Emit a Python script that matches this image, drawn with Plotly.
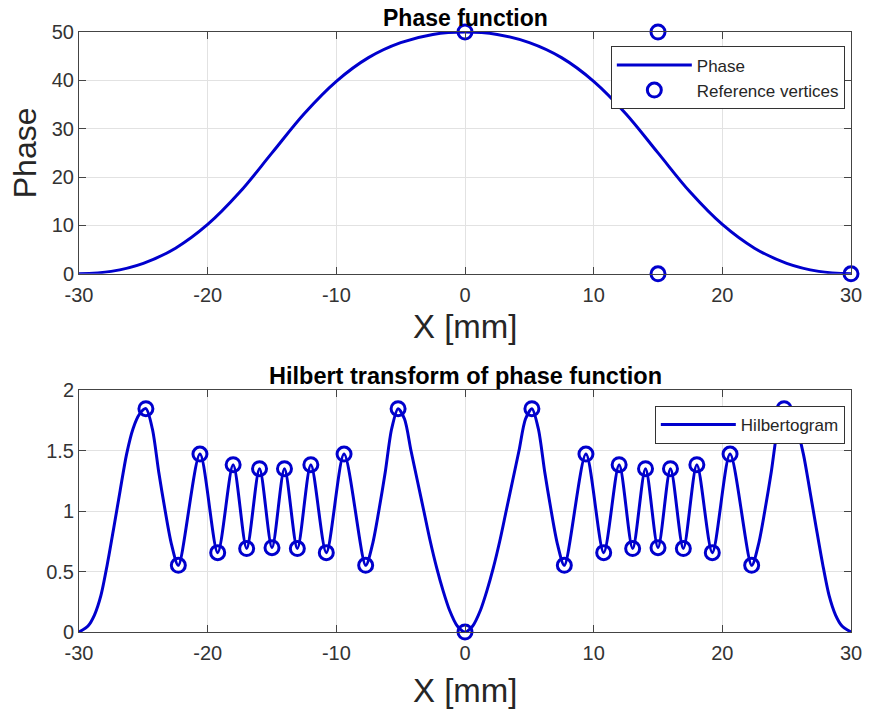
import plotly.graph_objects as go

BLUE = "#0000CD"

# ---- Top panel: phase function ----
phase_x = [-30, -27.5, -25, -22.5, -20, -17.5, -15, -12.5, -10, -7.5, -5, -2.5,
           0, 2.5, 5, 7.5, 10, 12.5, 15, 17.5, 20, 22.5, 25, 27.5, 30]
phase_y = [0, 0.5, 2.17, 5.3, 10.2, 16.9, 25, 33.1, 39.8, 44.7, 47.8, 49.5,
           50, 49.5, 47.8, 44.7, 39.8, 33.1, 25, 16.9, 10.2, 5.3, 2.17, 0.5, 0]

vert_x = [0, 15, 15, 30]
vert_y = [50, 50, 0, 0]

# ---- Bottom panel: Hilbertogram ----
hil_x = [-30, -29.3, -28.8, -28.3, -27.8, -27.3, -26.8, -26.3, -25.8, -25.3,
         -24.8, -24.3, -23.8, -23.3, -22.8,
         -22.28, -20.6, -19.22, -18.02, -16.97, -15.97, -15.0, -14.03, -13.03,
         -11.98, -10.78, -9.4, -7.72,
         -7.2, -6.7, -6.2, -5.7, -5.2, -4.7, -4.2, -3.7, -3.2, -2.7, -2.2,
         -1.7, -1.2, -0.6, 0, 0.6, 1.2, 1.7, 2.2, 2.7, 3.2, 3.7, 4.2, 4.7,
         5.2, 5.7, 6.2, 6.7, 7.2,
         7.72, 9.4, 10.78, 11.98, 13.03, 14.03, 15.0, 15.97, 16.97, 18.02,
         19.22, 20.6, 22.28,
         22.8, 23.3, 23.8, 24.3, 24.8, 25.3, 25.8, 26.3, 26.8, 27.3, 27.8,
         28.3, 28.8, 29.3, 30]
hil_y = [0, 0.05, 0.14, 0.30, 0.56, 0.86, 1.17, 1.47, 1.68, 1.80,
         1.846, 1.68, 1.32, 1.0, 0.72,
         0.551, 1.471, 0.656, 1.383, 0.69, 1.35, 0.697, 1.35, 0.69,
         1.383, 0.656, 1.471, 0.551,
         0.72, 1.0, 1.32, 1.68, 1.846, 1.76, 1.5, 1.25, 1.0, 0.75, 0.53,
         0.34, 0.18, 0.05, 0, 0.05, 0.18, 0.34, 0.53, 0.75, 1.0, 1.25, 1.5, 1.76,
         1.846, 1.68, 1.32, 1.0, 0.72,
         0.551, 1.471, 0.656, 1.383, 0.69, 1.35, 0.697, 1.35, 0.69, 1.383,
         0.656, 1.471, 0.551,
         0.72, 1.0, 1.32, 1.68, 1.846, 1.80, 1.68, 1.47, 1.17, 0.86, 0.56,
         0.30, 0.14, 0.05, 0]

ext_x = [-24.8, -22.28, -20.6, -19.22, -18.02, -16.97, -15.97, -15.0, -14.03,
         -13.03, -11.98, -10.78, -9.4, -7.72, -5.2, 0, 5.2, 7.72, 9.4, 10.78,
         11.98, 13.03, 14.03, 15.0, 15.97, 16.97, 18.02, 19.22, 20.6, 22.28, 24.8]
ext_y = [1.846, 0.551, 1.471, 0.656, 1.383, 0.69, 1.35, 0.697, 1.35,
         0.69, 1.383, 0.656, 1.471, 0.551, 1.846, 0, 1.846, 0.551, 1.471, 0.656,
         1.383, 0.69, 1.35, 0.697, 1.35, 0.69, 1.383, 0.656, 1.471, 0.551, 1.846]

x_ticks = [-30, -20, -10, 0, 10, 20, 30]
x_labels = ["-30", "-20", "-10", "0", "10", "20", "30"]
top_ticks = [0, 10, 20, 30, 40, 50]
bot_ticks = [0, 0.5, 1, 1.5, 2]
bot_labels = ["0", "0.5", "1", "1.5", "2"]

FONT = "Liberation Sans, Arial, sans-serif"
marker = dict(symbol="circle-open", size=14, color=BLUE, line=dict(width=3, color=BLUE))

fig = go.Figure()
fig.add_trace(go.Scatter(x=phase_x, y=phase_y, mode="lines", name="Phase",
                         line=dict(color=BLUE, width=3, shape="spline"),
                         xaxis="x", yaxis="y", legend="legend", cliponaxis=False))
fig.add_trace(go.Scatter(x=vert_x, y=vert_y, mode="markers", name="Reference vertices",
                         marker=marker, xaxis="x", yaxis="y", legend="legend",
                         cliponaxis=False))
fig.add_trace(go.Scatter(x=hil_x, y=hil_y, mode="lines", name="Hilbertogram",
                         line=dict(color=BLUE, width=3, shape="spline", smoothing=0.8),
                         xaxis="x2", yaxis="y2", legend="legend2", cliponaxis=False))
fig.add_trace(go.Scatter(x=ext_x, y=ext_y, mode="markers", name="extrema",
                         marker=marker, xaxis="x2", yaxis="y2", showlegend=False,
                         cliponaxis=False))

axis_common = dict(showline=True, linecolor="#444444", linewidth=1, mirror="ticks",
                   ticks="inside", ticklen=7, tickcolor="#444444",
                   showgrid=True, gridcolor="#e2e2e2", gridwidth=1, zeroline=False,
                   tickfont=dict(family=FONT, size=20, color="#333333"))

fig.update_layout(
    width=874, height=709,
    margin=dict(l=79, r=12, t=32, b=77),
    paper_bgcolor="white", plot_bgcolor="white",
    font=dict(family=FONT),
    xaxis=dict(domain=[0, 1], anchor="y", range=[-30, 30], tickvals=x_ticks,
               ticktext=x_labels, ticklabelstandoff=3, **axis_common),
    yaxis=dict(domain=[0.597, 1], anchor="x", range=[0, 50], tickvals=top_ticks, **axis_common),
    xaxis2=dict(domain=[0, 1], anchor="y2", range=[-30, 30], tickvals=x_ticks,
                ticktext=x_labels, ticklabelstandoff=3, **axis_common),
    yaxis2=dict(domain=[0, 0.4033], anchor="x2", range=[0, 2], tickvals=bot_ticks,
                ticktext=bot_labels, **axis_common),
    legend=dict(x=0.992, y=0.976, xanchor="right", yanchor="top", xref="paper", yref="paper",
                bgcolor="white", bordercolor="#333333", borderwidth=1, itemwidth=75,
                font=dict(family=FONT, size=17, color="#262626")),
    legend2=dict(x=0.992, y=0.3767, xanchor="right", yanchor="top", xref="paper", yref="paper",
                 bgcolor="white", bordercolor="#333333", borderwidth=1, itemwidth=75,
                 font=dict(family=FONT, size=17, color="#262626")),
    annotations=[
        dict(text="<b>Phase function</b>", x=0.5, y=1.0228, xref="paper", yref="paper",
             showarrow=False, xanchor="center", yanchor="middle",
             font=dict(family=FONT, size=23, color="black")),
        dict(text="<b>Hilbert transform of phase function</b>", x=0.5, y=0.4262,
             xref="paper", yref="paper", showarrow=False, xanchor="center", yanchor="middle",
             font=dict(family=FONT, size=23.5, color="black")),
        dict(text="X [mm]", x=0.5, y=0.5095, xref="paper", yref="paper", showarrow=False,
             xanchor="center", yanchor="middle", font=dict(family=FONT, size=33, color="#262626")),
        dict(text="X [mm]", x=0.5, y=-0.097, xref="paper", yref="paper", showarrow=False,
             xanchor="center", yanchor="middle", font=dict(family=FONT, size=33, color="#262626")),
        dict(text="Phase", x=-0.07, y=0.7995, xref="paper", yref="paper", showarrow=False,
             textangle=-90, xanchor="center", yanchor="middle",
             font=dict(family=FONT, size=32, color="#262626")),
    ],
)

fig.write_html("out.html")
